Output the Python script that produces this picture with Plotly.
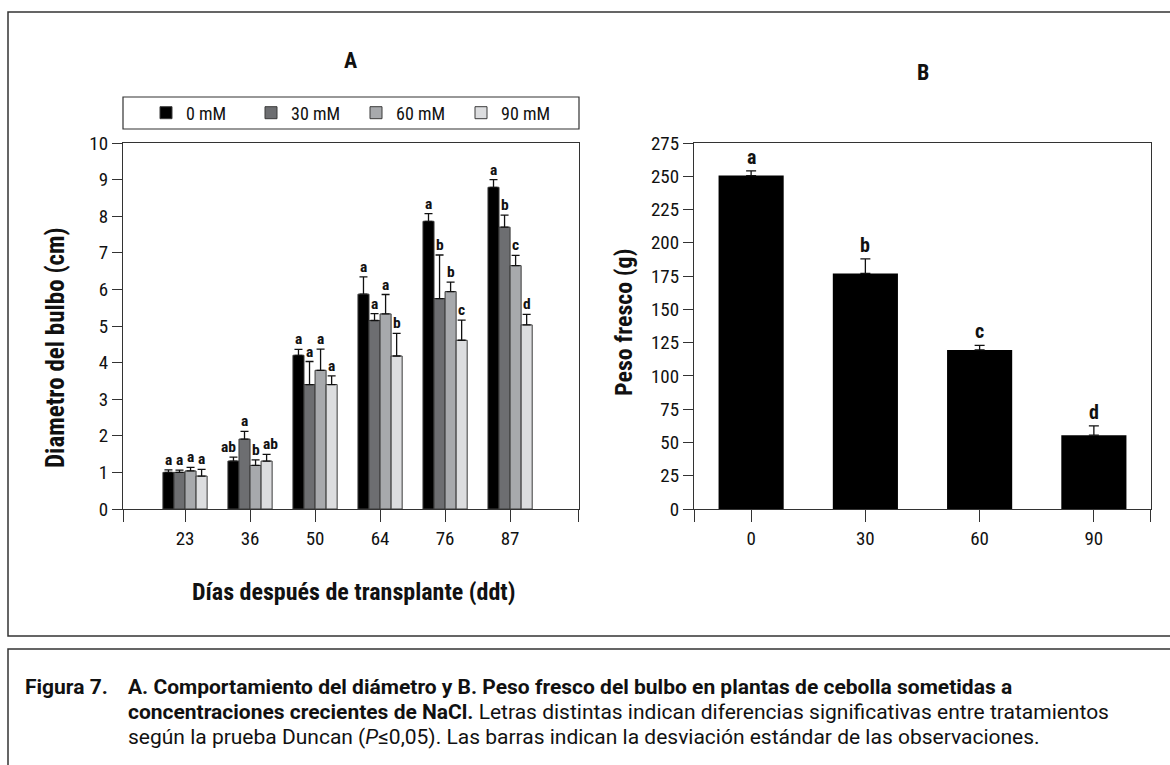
import plotly.graph_objects as go

# ---------------- data ----------------
days = ['23', '36', '50', '64', '76', '87']
series_names = ['0 mM', '30 mM', '60 mM', '90 mM']
diam_0 = [1.00, 1.31, 4.20, 5.87, 7.86, 8.79]
diam_30 = [1.00, 1.91, 3.40, 5.15, 5.75, 7.70]
diam_60 = [1.04, 1.19, 3.79, 5.33, 5.94, 6.65]
diam_90 = [0.90, 1.31, 3.40, 4.18, 4.61, 5.03]
sd_0 = [0.07, 0.11, 0.16, 0.47, 0.21, 0.21]
sd_30 = [0.06, 0.21, 0.63, 0.19, 1.19, 0.33]
sd_60 = [0.10, 0.15, 0.58, 0.53, 0.26, 0.28]
sd_90 = [0.18, 0.18, 0.24, 0.62, 0.55, 0.29]
let_0 = ['a', 'ab', 'a', 'a', 'a', 'a']
let_30 = ['a', 'a', 'a', 'a', 'b', 'b']
let_60 = ['a', 'b', 'a', 'a', 'b', 'c']
let_90 = ['a', 'ab', 'a', 'b', 'c', 'd']

conc = ['0', '30', '60', '90']
peso = [250.5, 177.0, 119.5, 55.5]
peso_sd = [3.5, 11.0, 3.5, 7.0]
peso_let = ['a', 'b', 'c', 'd']

# ---------------- styling ----------------
W, H = 1170, 765
FONT = "Roboto Condensed, Liberation Sans Narrow, Roboto, sans-serif"
CAP_FONT = "Roboto, sans-serif"
LINE = '#333333'
colors = ['#000000', '#6d6e71', '#a7a9ac', '#dcdddf']


def px(x):
    return x / W


def py(y):
    return (H - y) / H


A_left, A_right = 123, 579
B_left, B_right = 694, 1151
top, bottom = 143, 509
bargap = 0.32

vals = [diam_0, diam_30, diam_60, diam_90]
sds = [sd_0, sd_30, sd_60, sd_90]
lets = [let_0, let_30, let_60, let_90]

fig = go.Figure()
xA = list(range(len(days)))
for name, v, s, c in zip(series_names, vals, sds, colors):
    fig.add_trace(go.Bar(
        x=xA, y=v, name=name, xaxis='x', yaxis='y',
        marker=dict(color=c, line=dict(color='#3a3a3a', width=1)),
        error_y=dict(type='data', array=s, arrayminus=[0] * len(s), symmetric=False,
                     color='#111111', thickness=1.3, width=4),
    ))

xB = list(range(len(conc)))
fig.add_trace(go.Bar(
    x=xB, y=peso, xaxis='x2', yaxis='y2', showlegend=False, width=0.57,
    marker=dict(color='#000000', line=dict(color='#000000', width=0)),
    error_y=dict(type='data', array=peso_sd, arrayminus=[0] * len(peso_sd), symmetric=False,
                 color='#111111', thickness=1.3, width=5),
))

annotations = []
# significance letters for A
bw = (1 - bargap) / len(series_names)
for k, (v, s, L) in enumerate(zip(vals, sds, lets)):
    off = (k - (len(series_names) - 1) / 2) * bw
    for i in range(len(days)):
        xs = 0
        if len(L[i]) > 1:
            xs = -5 if k == 0 else 4
        annotations.append(dict(x=xA[i] + off, y=v[i] + s[i], xref='x', yref='y', text='<b>%s</b>' % L[i],
                                showarrow=False, xanchor='center', yanchor='bottom', yshift=-1, xshift=xs,
                                font=dict(family=FONT, size=15.5, color='#111')))
for i in range(len(conc)):
    annotations.append(dict(x=xB[i], y=peso[i] + peso_sd[i], xref='x2', yref='y2', text='<b>%s</b>' % peso_let[i],
                            showarrow=False, xanchor='center', yanchor='bottom', yshift=0,
                            font=dict(family=FONT, size=20, color='#111')))

title_font = dict(family=FONT, size=24, color='#111')
panel_font = dict(family=FONT, size=22, color='#111')
titles = [
    (350, 60, '<b>A</b>', 0, panel_font),
    (923, 72, '<b>B</b>', 0, panel_font),
    (55, 348, '<b>Diametro del bulbo (cm)</b>', -90, dict(family=FONT, size=25, color='#111')),
    (353, 592, '<b>Días después de transplante (ddt)</b>', 0, title_font),
    (624, 323, '<b>Peso fresco (g)</b>', -90, title_font),
]
for x0, y0, t, ang, f in titles:
    annotations.append(dict(x=px(x0), y=py(y0), xref='paper', yref='paper', text=t, textangle=ang,
                            xanchor='center', yanchor='middle', showarrow=False, font=f))

cap_lines = [
    (23, 687, '<b>Figura 7.</b>'),
    (126, 687, '<b>A. Comportamiento del diámetro y B. Peso fresco del bulbo en plantas de cebolla sometidas a</b>'),
    (126, 712, '<b>concentraciones crecientes de NaCl.</b> Letras distintas indican diferencias significativas entre tratamientos'),
    (126, 737, 'según la prueba Duncan (<i>P</i>≤0,05). Las barras indican la desviación estándar de las observaciones.'),
]
for x0, y0, t in cap_lines:
    annotations.append(dict(x=px(x0), y=py(y0), xref='paper', yref='paper', xanchor='left', yanchor='middle',
                            text=t, showarrow=False,
                            font=dict(family=CAP_FONT, size=21, color='#111')))

shapes = [
    dict(type='rect', xref='paper', yref='paper', x0=px(8), y0=py(12), x1=px(1180), y1=py(636),
         line=dict(color=LINE, width=1.5)),
    dict(type='rect', xref='paper', yref='paper', x0=px(8), y0=py(649), x1=px(1180), y1=py(790),
         line=dict(color=LINE, width=1.5)),
    dict(type='rect', xref='paper', yref='paper', x0=px(A_left), y0=py(97), x1=px(A_right), y1=py(129),
         line=dict(color=LINE, width=1.2)),
]

tick_font = dict(family=FONT, size=19, color='#111')
# x range of A chosen so that categories sit at the reference positions
a_lo, a_hi = -0.954, 6.06
axis_common = dict(showline=True, linecolor=LINE, linewidth=1.2, mirror=True, ticks='outside',
                   tickcolor=LINE, tickwidth=1.2, showgrid=False, zeroline=False, tickfont=tick_font,
                   automargin=False)

fig.update_layout(
    width=W, height=H, margin=dict(l=0, r=0, t=0, b=0, pad=0, autoexpand=False),
    paper_bgcolor='white', plot_bgcolor='white',
    barmode='group', bargap=bargap, bargroupgap=0,
    font=dict(family=FONT, color='#111'),
    xaxis=dict(domain=[px(A_left), px(A_right)], range=[a_lo, a_hi], anchor='y',
               tickmode='array', tickvals=[a_lo + 0.001] + xA + [a_hi - 0.001], ticktext=[''] + days + [''],
               ticklen=12, **axis_common),
    yaxis=dict(domain=[py(bottom), py(top)], range=[0, 10], dtick=1, anchor='x', ticklen=10, **axis_common),
    xaxis2=dict(domain=[px(B_left), px(B_right)], range=[-0.5, 3.5], anchor='y2',
                tickmode='array', tickvals=[-0.499] + xB + [3.499], ticktext=[''] + conc + [''],
                ticklen=12, **axis_common),
    yaxis2=dict(domain=[py(bottom), py(top)], range=[0, 275], dtick=25, anchor='x2', ticklen=10, **axis_common),
    legend=dict(orientation='h', x=px(146), xanchor='left', y=py(113), yanchor='middle',
                bgcolor='rgba(0,0,0,0)', borderwidth=0, entrywidth=60, entrywidthmode='pixels',
                font=dict(family=FONT, size=18, color='#111'), itemwidth=30),
    annotations=annotations,
    shapes=shapes,
)

fig.write_html('out.html', config={'displayModeBar': False},
               post_script="document.body.style.margin='0';document.body.style.overflow='hidden';")
